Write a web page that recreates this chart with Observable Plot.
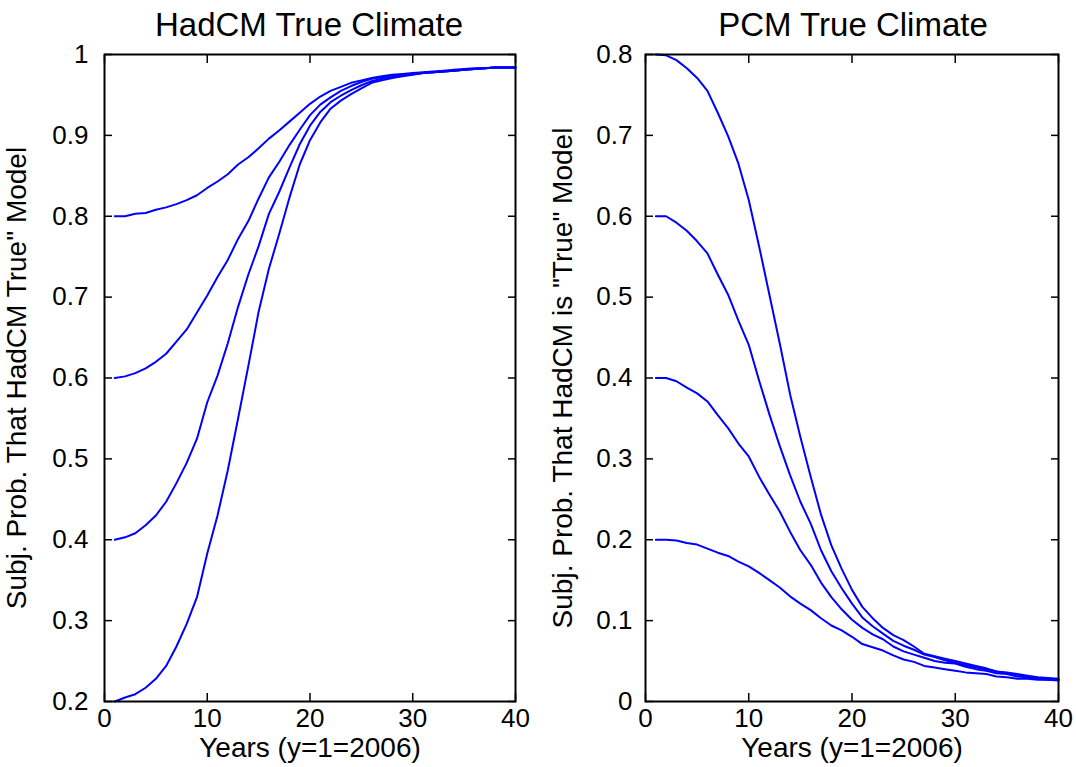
<!DOCTYPE html>
<html>
<head>
<meta charset="utf-8">
<script src="https://cdn.jsdelivr.net/npm/d3@7"></script>
<script src="https://cdn.jsdelivr.net/npm/@observablehq/plot@0.6"></script>
<style>
  html, body { margin: 0; padding: 0; background: #fff; }
  #fig { position: relative; width: 1076px; height: 767px; overflow: hidden; font-family: "Liberation Sans", Arial, sans-serif; }
  .panel { position: absolute; top: 0; }
  .title { position: absolute; top: 8px; font-size: 33px; line-height: 1; white-space: nowrap; color: #000; transform: translateX(-50%); }
</style>
</head>
<body>
<div id="fig"></div>
<script>
// ---- data ----
const years = [1,2,3,4,5,6,7,8,9,10,11,12,13,14,15,16,17,18,19,20,21,22,23,24,25,26,27,28,29,30,31,32,33,34,35,36,37,38,39,40];

// Left panel: HadCM true climate, prior 0.8 / 0.6 / 0.4 / 0.2
const hadcmPrior80 = [0.800,0.800,0.803,0.804,0.808,0.811,0.815,0.820,0.826,0.835,0.843,0.852,0.864,0.873,0.884,0.896,0.906,0.917,0.928,0.939,0.948,0.955,0.960,0.965,0.968,0.971,0.973,0.975,0.976,0.977,0.978,0.979,0.980,0.981,0.982,0.983,0.983,0.984,0.984,0.984];
const hadcmPrior60 = [0.600,0.602,0.606,0.612,0.620,0.630,0.645,0.660,0.681,0.702,0.725,0.746,0.772,0.794,0.822,0.848,0.867,0.888,0.907,0.925,0.938,0.947,0.955,0.961,0.966,0.970,0.972,0.974,0.975,0.976,0.977,0.978,0.979,0.980,0.981,0.982,0.983,0.984,0.984,0.984];
const hadcmPrior40 = [0.400,0.403,0.408,0.418,0.430,0.447,0.470,0.495,0.525,0.570,0.603,0.643,0.688,0.728,0.763,0.803,0.830,0.860,0.889,0.912,0.929,0.941,0.949,0.956,0.962,0.967,0.970,0.972,0.974,0.976,0.977,0.978,0.979,0.980,0.981,0.982,0.983,0.984,0.984,0.984];
const hadcmPrior20 = [0.200,0.205,0.209,0.217,0.228,0.244,0.268,0.296,0.329,0.383,0.430,0.486,0.550,0.615,0.682,0.735,0.778,0.823,0.864,0.894,0.916,0.933,0.943,0.951,0.958,0.965,0.968,0.971,0.973,0.975,0.977,0.978,0.979,0.980,0.981,0.982,0.983,0.984,0.984,0.984];

// Right panel: PCM true climate, prior 0.8 / 0.6 / 0.4 / 0.2
const pcmPrior80 = [0.800,0.799,0.793,0.783,0.771,0.755,0.728,0.699,0.665,0.620,0.563,0.503,0.443,0.380,0.327,0.278,0.231,0.193,0.164,0.138,0.117,0.103,0.091,0.082,0.076,0.068,0.059,0.056,0.053,0.050,0.047,0.044,0.041,0.037,0.036,0.034,0.032,0.030,0.029,0.028];
const pcmPrior60 = [0.600,0.600,0.592,0.582,0.569,0.554,0.528,0.503,0.471,0.441,0.397,0.355,0.316,0.280,0.247,0.220,0.187,0.161,0.140,0.121,0.104,0.093,0.084,0.075,0.069,0.064,0.058,0.055,0.051,0.048,0.045,0.042,0.040,0.037,0.035,0.033,0.031,0.029,0.028,0.027];
const pcmPrior40 = [0.400,0.400,0.396,0.388,0.381,0.371,0.354,0.338,0.319,0.303,0.278,0.256,0.235,0.210,0.187,0.169,0.147,0.129,0.114,0.101,0.091,0.083,0.077,0.068,0.062,0.058,0.054,0.050,0.048,0.047,0.043,0.040,0.038,0.035,0.034,0.031,0.030,0.028,0.027,0.027];
const pcmPrior20 = [0.200,0.200,0.199,0.196,0.194,0.189,0.184,0.180,0.173,0.167,0.159,0.150,0.141,0.130,0.121,0.113,0.103,0.094,0.088,0.080,0.071,0.067,0.063,0.057,0.052,0.049,0.044,0.042,0.040,0.038,0.036,0.035,0.034,0.031,0.030,0.028,0.028,0.027,0.027,0.026];

const priorLabels = ["0.8", "0.6", "0.4", "0.2"];
const xTicks = [0, 10, 20, 30, 40];
const yTicksLeft = [0.2, 0.3, 0.4, 0.5, 0.6, 0.7, 0.8, 0.9, 1];
const yTicksRight = [0, 0.1, 0.2, 0.3, 0.4, 0.5, 0.6, 0.7, 0.8];

const titles = ["HadCM True Climate", "PCM True Climate"];
const xLabel = "Years (y=1=2006)";
const yLabels = ["Subj. Prob. That HadCM True\" Model", "Subj. Prob. That HadCM is \"True\" Model"];

// ---- build tidy tables ----
function tidy(seriesList) {
  const rows = [];
  seriesList.forEach((vals, i) => {
    vals.forEach((v, j) => rows.push({year: years[j], p: v, prior: priorLabels[i]}));
  });
  return rows;
}
const leftData = tidy([hadcmPrior80, hadcmPrior60, hadcmPrior40, hadcmPrior20]);
const rightData = tidy([pcmPrior80, pcmPrior60, pcmPrior40, pcmPrior20]);

const fmt = d => String(+(+d).toFixed(1));
const FONT = '"Liberation Sans", Arial, sans-serif';

function panel({data, yDomain, yTicks, yLabel, marginLeft, marginRight, tickPadY, labelOffsetY}) {
  return Plot.plot({
    width: 538,
    height: 767,
    marginTop: 54,
    marginBottom: 66,
    marginLeft,
    marginRight,
    style: {fontFamily: FONT, fontSize: "26px", color: "#000", background: "transparent", overflow: "visible"},
    x: {domain: [0, 40]},
    y: {domain: yDomain},
    marks: [
      Plot.line(data, {x: "year", y: "p", z: "prior", stroke: "#0000ff", strokeWidth: 2}),
      Plot.frame({stroke: "#000", strokeWidth: 2}),
      Plot.axisX({anchor: "bottom", ticks: xTicks, tickSize: -8, tickPadding: 15, tickFormat: fmt, fontSize: 26,
                  label: null, strokeWidth: 1.5}),
      Plot.axisX({anchor: "bottom", ticks: [], tickSize: 0, label: xLabel, labelAnchor: "center", labelArrow: "none",
                  labelOffset: 55, fontSize: 28}),
      Plot.axisX({anchor: "top", ticks: xTicks, tickSize: -8, fill: "none", label: null, strokeWidth: 1.5}),
      Plot.axisY({anchor: "left", ticks: yTicks, tickSize: -8, tickPadding: tickPadY, tickFormat: fmt, fontSize: 26,
                  label: null, strokeWidth: 1.5}),
      Plot.axisY({anchor: "left", ticks: [], tickSize: 0, label: yLabel, labelAnchor: "center", labelArrow: "none",
                  labelOffset: labelOffsetY, fontSize: 28}),
      Plot.axisY({anchor: "right", ticks: yTicks, tickSize: -8, fill: "none", label: null, strokeWidth: 1.5})
    ]
  });
}

const fig = document.getElementById("fig");

const left = panel({data: leftData, yDomain: [0.2, 1], yTicks: yTicksLeft, yLabel: yLabels[0], marginLeft: 104, marginRight: 23, tickPadY: 24, labelOffsetY: 98});
left.classList.add("panel");
left.style.left = "0px";
fig.appendChild(left);

const right = panel({data: rightData, yDomain: [0, 0.8], yTicks: yTicksRight, yLabel: yLabels[1], marginLeft: 107, marginRight: 18, tickPadY: 21, labelOffsetY: 93});
right.classList.add("panel");
right.style.left = "538px";
fig.appendChild(right);

const titleCenters = [309, 853];
titles.forEach((t, i) => {
  const d = document.createElement("div");
  d.className = "title";
  d.textContent = t;
  d.style.left = titleCenters[i] + "px";
  fig.appendChild(d);
});
</script>
</body>
</html>
